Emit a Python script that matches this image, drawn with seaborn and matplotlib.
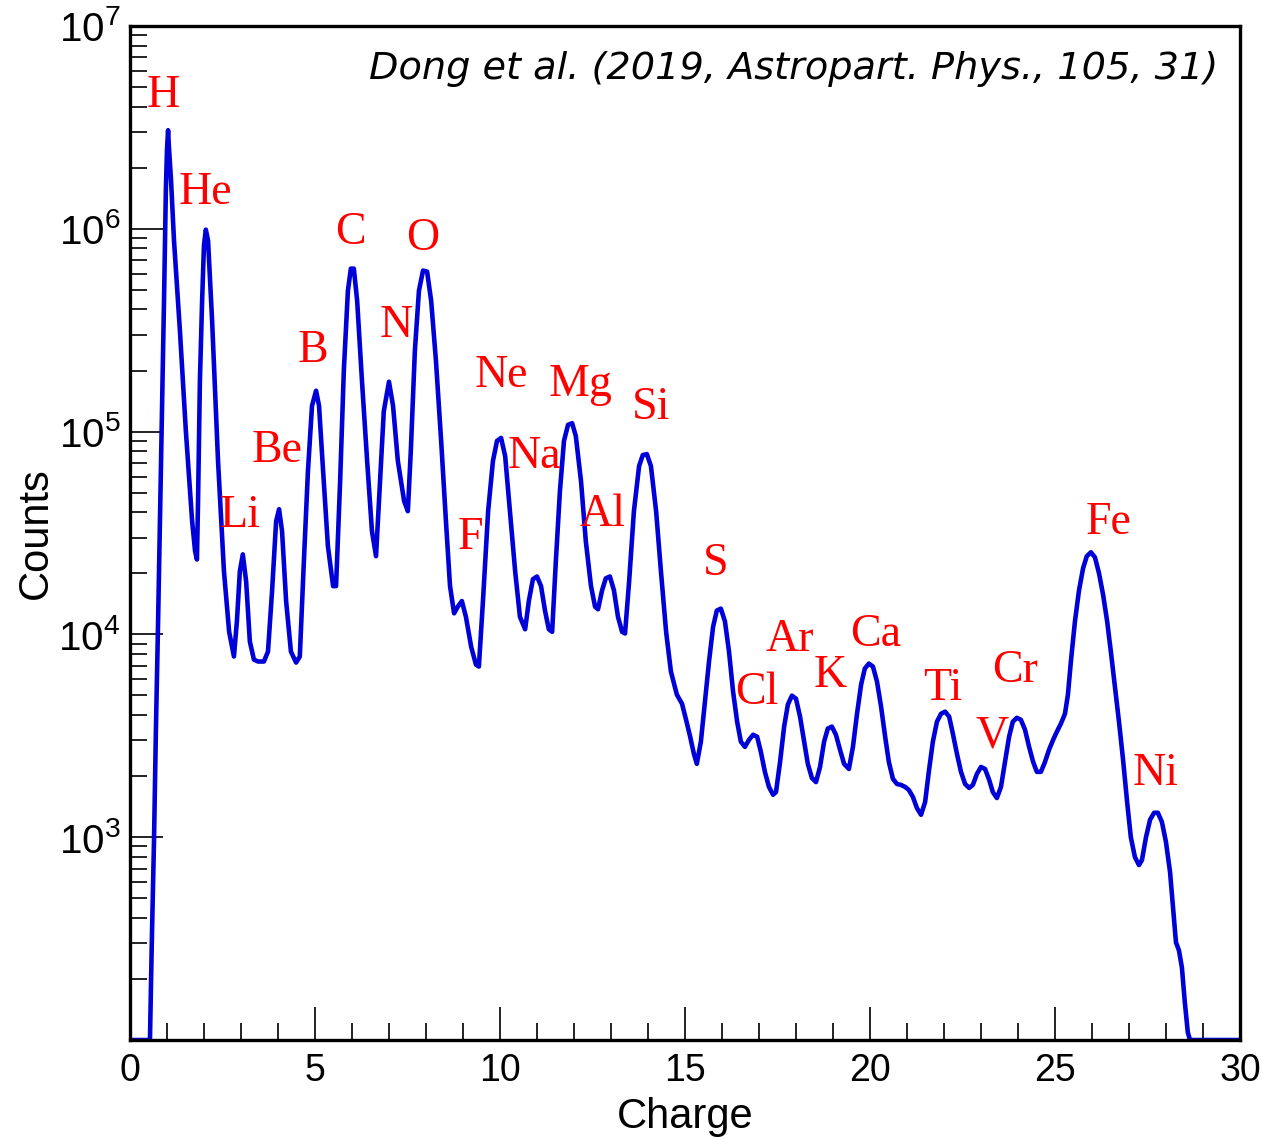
import matplotlib
matplotlib.use("Agg")
import matplotlib.pyplot as plt
import numpy as np
import pandas as pd
import seaborn as sns
from matplotlib.ticker import FixedLocator, LogLocator, NullFormatter, LogFormatterSciNotation

# Charge spectrum (counts per charge bin)
charge = [
    0.00, 0.54, 0.59, 0.65, 0.70, 0.76, 0.81, 0.86, 0.92, 0.97, 1.00, 1.03, 1.05, 1.11, 1.19,
    1.35, 1.51, 1.68, 1.76, 1.81, 1.84, 1.89, 1.95, 2.00, 2.05, 2.11, 2.22, 2.38, 2.54, 2.68,
    2.81, 2.89, 2.97, 3.05, 3.14, 3.24, 3.35, 3.46, 3.62, 3.73, 3.84, 3.95, 4.03, 4.11, 4.22,
    4.35, 4.49, 4.59, 4.70, 4.81, 4.92, 5.03, 5.11, 5.22, 5.35, 5.49, 5.57, 5.68, 5.78, 5.89,
    5.97, 6.05, 6.14, 6.27, 6.41, 6.54, 6.65, 6.76, 6.86, 7.00, 7.11, 7.24, 7.41, 7.51, 7.59,
    7.70, 7.81, 7.92, 8.03, 8.14, 8.27, 8.41, 8.54, 8.65, 8.76, 8.86, 8.97, 9.08, 9.22, 9.35,
    9.43, 9.54, 9.68, 9.81, 9.92, 10.03, 10.14, 10.27, 10.41, 10.54, 10.68, 10.78, 10.89, 11.00,
    11.11, 11.22, 11.32, 11.41, 11.51, 11.62, 11.73, 11.84, 11.95, 12.05, 12.19, 12.32, 12.46,
    12.57, 12.65, 12.76, 12.86, 12.97, 13.08, 13.19, 13.30, 13.38, 13.49, 13.62, 13.76, 13.86,
    13.97, 14.08, 14.22, 14.35, 14.49, 14.62, 14.78, 14.92, 15.03, 15.14, 15.24, 15.32, 15.43,
    15.54, 15.65, 15.76, 15.86, 15.97, 16.08, 16.19, 16.30, 16.41, 16.51, 16.62, 16.73, 16.84,
    16.95, 17.05, 17.16, 17.27, 17.38, 17.46, 17.57, 17.68, 17.78, 17.89, 18.00, 18.11, 18.22,
    18.32, 18.43, 18.54, 18.65, 18.76, 18.86, 18.97, 19.08, 19.19, 19.30, 19.43, 19.54, 19.65,
    19.76, 19.86, 19.97, 20.08, 20.19, 20.30, 20.41, 20.51, 20.62, 20.73, 20.84, 20.95, 21.05,
    21.16, 21.27, 21.38, 21.49, 21.59, 21.70, 21.81, 21.92, 22.03, 22.14, 22.24, 22.35, 22.46,
    22.57, 22.68, 22.78, 22.89, 23.00, 23.11, 23.22, 23.32, 23.43, 23.54, 23.65, 23.76, 23.86,
    23.97, 24.08, 24.19, 24.30, 24.41, 24.51, 24.62, 24.73, 24.84, 24.95, 25.05, 25.16, 25.27,
    25.35, 25.43, 25.54, 25.65, 25.76, 25.86, 25.97, 26.08, 26.19, 26.30, 26.41, 26.51, 26.62,
    26.73, 26.84, 26.95, 27.05, 27.16, 27.27, 27.35, 27.46, 27.57, 27.68, 27.78, 27.89, 28.00,
    28.11, 28.19, 28.27, 28.35, 28.43, 28.51, 28.59, 28.65, 30.00,
]
counts = [
    100, 100, 303, 968, 3310, 11600, 36100, 113000, 442000, 1550000, 2440000, 3060000, 2580000,
    1730000, 875000, 314000, 101000, 36100, 25700, 23400, 45400, 178000, 443000, 827000, 990000,
    875000, 352000, 71600, 20500, 10300, 7780, 11600, 20500, 24800, 18200, 9220, 7510, 7350,
    7350, 8230, 16300, 36100, 41400, 32300, 14600, 8230, 7260, 7780, 22900, 63800, 134000,
    159000, 134000, 63800, 27200, 17300, 17300, 57000, 200000, 495000, 636000, 636000, 442000,
    178000, 71600, 32300, 24300, 57000, 126000, 176000, 134000, 71600, 45400, 40500, 80200,
    250000, 495000, 622000, 615000, 442000, 223000, 90000, 36100, 17300, 12700, 13700, 14600,
    12200, 8710, 7100, 6940, 14600, 40500, 71600, 90000, 93000, 75700, 40500, 20500, 12200,
    10600, 14600, 18700, 19300, 17300, 13000, 10600, 10300, 22900, 50800, 90000, 108000, 110000,
    95000, 57000, 28800, 17300, 13700, 13300, 16500, 18900, 19300, 16500, 12200, 10300, 10100,
    18200, 40500, 67600, 76600, 77400, 67600, 40500, 20500, 10300, 6560, 5050, 4550, 3790,
    3130, 2580, 2300, 2960, 4660, 7350, 10900, 13100, 13400, 11600, 8230, 5220, 3710, 2960,
    2790, 3020, 3200, 3130, 2640, 2100, 1770, 1620, 1670, 2350, 3510, 4500, 4990, 4820, 3930,
    2960, 2300, 1960, 1870, 2220, 2960, 3430, 3510, 3200, 2700, 2300, 2170, 2790, 4060, 5650,
    6780, 7180, 6940, 5850, 4400, 3130, 2350, 1940, 1830, 1810, 1770, 1710, 1580, 1390, 1290,
    1490, 2100, 2960, 3710, 4060, 4160, 3930, 3240, 2580, 2100, 1830, 1750, 1810, 2050, 2220,
    2170, 1920, 1670, 1560, 1770, 2350, 3130, 3710, 3880, 3790, 3390, 2790, 2350, 2100, 2100,
    2350, 2700, 3020, 3310, 3630, 4060, 5050, 7350, 11600, 16500, 21200, 24300, 25400, 24000,
    20000, 15700, 11600, 8230, 5520, 3710, 2410, 1490, 1000, 798, 729, 771, 1000, 1220, 1320,
    1320, 1190, 946, 673, 452, 303, 277, 228, 153, 109, 100, 100,
]

# Element name labels and their anchor positions
elements = ["H", "He", "Li", "Be", "B", "C", "N", "O", "F", "Ne", "Na", "Mg",
            "Al", "Si", "S", "Cl", "Ar", "K", "Ca", "Ti", "V", "Cr", "Fe", "Ni"]
label_x = [0.89, 2.03, 2.97, 3.97, 4.95, 5.97, 7.19, 7.92, 9.19, 10.05, 10.92, 12.19,
           12.78, 14.08, 15.84, 16.95, 17.84, 18.92, 20.16, 21.97, 23.30, 23.92, 26.46, 27.73]
label_y = [4.51e6, 1.51e6, 3.83e4, 8.02e4, 2.50e5, 9.59e5, 3.33e5, 8.95e5, 2.98e4, 1.88e5,
           7.48e4, 1.70e5, 3.87e4, 1.31e5, 2.22e4, 5.16e3, 9.44e3, 6.27e3, 1.0e4, 5.41e3,
           3.13e3, 6.64e3, 3.57e4, 2.05e3]

x_major = [0, 5, 10, 15, 20, 25, 30]
y_major = [1e3, 1e4, 1e5, 1e6, 1e7]

sns.set_theme(style="ticks")
plt.rcParams["font.family"] = ["Liberation Sans", "DejaVu Sans"]
plt.rcParams["mathtext.default"] = "regular"
plt.rcParams["text.color"] = "black"
plt.rcParams["axes.labelcolor"] = "black"
plt.rcParams["xtick.labelcolor"] = "black"
plt.rcParams["ytick.labelcolor"] = "black"

fig = plt.figure(figsize=(12.68, 11.38), dpi=100)
ax = fig.add_axes([0.1025, 0.0861, 0.8754, 0.8911])

df = pd.DataFrame({"Charge": charge, "Counts": counts})
sns.lineplot(data=df, x="Charge", y="Counts", ax=ax, color="#0000d8",
             linewidth=3.3, estimator=None, sort=False,
             solid_joinstyle="round", solid_capstyle="round")

ax.set_yscale("log")
ax.set_xlim(0, 30)
ax.set_ylim(100, 1e7)

ax.xaxis.set_major_locator(FixedLocator(x_major))
ax.xaxis.set_minor_locator(FixedLocator(range(0, 31)))
ax.yaxis.set_major_locator(FixedLocator(y_major))
ax.yaxis.set_major_formatter(LogFormatterSciNotation())
ax.yaxis.set_minor_locator(LogLocator(base=10, subs=np.arange(2, 10)))
ax.yaxis.set_minor_formatter(NullFormatter())

ax.tick_params(which="both", direction="in", top=False, right=False,
               color="#222222", width=1.4)
ax.tick_params(which="major", length=24)
ax.tick_params(which="minor", length=12)
ax.tick_params(axis="x", pad=9, labelsize=27)
ax.tick_params(axis="y", pad=7, labelsize=29)

for s in ax.spines.values():
    s.set_linewidth(2.4)
    s.set_color("black")
    s.set_visible(True)

ax.set_xlabel("Charge", fontsize=30, labelpad=6)
ax.set_ylabel("Counts", fontsize=30, labelpad=2)

for name, lx, ly in zip(elements, label_x, label_y):
    ax.text(lx, ly, name, color="red", fontsize=33, family="Liberation Serif",
            ha="center", va="center")

ax.text(0.980, 0.958, "Dong et al. (2019, Astropart. Phys., 105, 31)",
        transform=ax.transAxes, ha="right", va="center", fontsize=27.5,
        family="DejaVu Sans", style="italic", color="black")

fig.savefig("out.png", dpi=100, facecolor="white")
